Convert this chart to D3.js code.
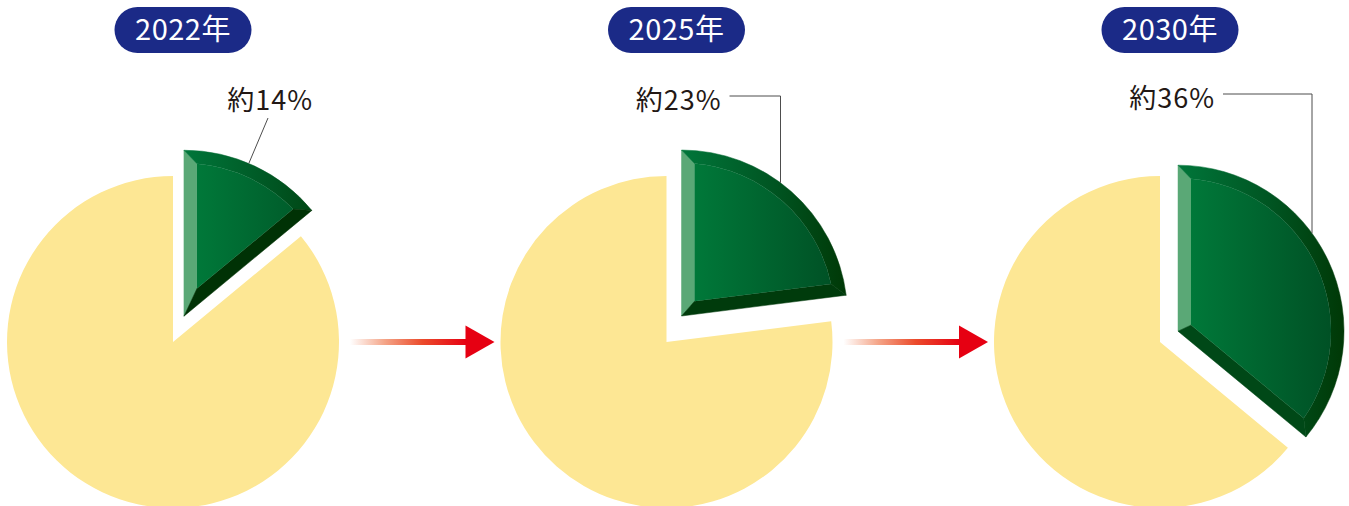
<!DOCTYPE html>
<html lang="ja">
<head>
<meta charset="utf-8">
<script src="https://cdn.jsdelivr.net/npm/d3@7"></script>
<style>
  html, body { margin: 0; padding: 0; background: #ffffff; }
  svg { display: block; }
  .pill-text { font-family: "Noto Sans CJK JP", "Noto Sans", sans-serif; font-weight: 400; }
  .share-label { font-family: "Noto Sans CJK JP", "Noto Sans", sans-serif; font-weight: 400; }
</style>
</head>
<body>
<div id="chart"></div>
<script>
// data
const years = ["2022年", "2025年", "2030年"];
const shares = [14, 23, 36];          // green share, percent
const shareLabels = ["約14%", "約23%", "約36%"];

// layout
const W = 1349, H = 506;
const R = 166, b = 13;               // pie radius, bevel width
const cy = 342;
// how far / which way (deg from 12 o'clock) the green slice is pulled out
const explode = [{d: 28, a: 23}, {d: 30, a: 30}, {d: 21, a: 59}];
// label right edge (relative to pie centre), baseline, leader type
const labelCfg = [
    {dx: 140, y: 110, leader: "slant", from: [95, 118], at: 23},
    {dx: 55, y: 110, leader: "elbow", elbow: 114, lineY: 96},
    {dx: 55, y: 108, leader: "elbow", elbow: 152, lineY: 94}
];

const svg = d3.select("#chart").append("svg")
    .attr("width", W)
    .attr("height", H);

const defs = svg.append("defs");

const x = d3.scalePoint()
    .domain(years)
    .range([173, 1160]);

const pie = d3.pie().sort(null).value(d => d);
const yellowArc = d3.arc().innerRadius(0).outerRadius(R);

// unit vector for angle measured clockwise from 12 o'clock
const u = a => [Math.sin(a), -Math.cos(a)];
const rad = deg => deg * Math.PI / 180;

// arrow gradient
const ag = defs.append("linearGradient")
    .attr("id", "arrowGrad")
    .attr("x1", 0).attr("x2", 1).attr("y1", 0).attr("y2", 0);
[[0, "#ffffff"], [0.3, "#f4a487"], [0.62, "#eb4b2c"], [1, "#e60012"]].forEach(s => {
    ag.append("stop").attr("offset", s[0]).attr("stop-color", s[1]);
});

years.forEach((yr, i) => {
    const cx = x(yr);
    const slices = pie([shares[i], 100 - shares[i]]);
    const g = svg.append("g").attr("class", "pie-" + i);

    // yellow remainder
    g.append("path")
        .attr("transform", `translate(${cx},${cy})`)
        .attr("d", yellowArc(slices[1]))
        .attr("fill", "#fde794");

    // exploded green slice with bevel
    const a0 = slices[0].startAngle, a1 = slices[0].endAngle;
    const mid = (a0 + a1) / 2;
    const ex = explode[i];
    const V = [cx + ex.d * u(rad(ex.a))[0], cy + ex.d * u(rad(ex.a))[1]];
    const P0 = [V[0] + R * u(a0)[0], V[1] + R * u(a0)[1]];
    const P1 = [V[0] + R * u(a1)[0], V[1] + R * u(a1)[1]];
    const dIn = b / Math.sin((a1 - a0) / 2);
    const Vi = [V[0] + dIn * u(mid)[0], V[1] + dIn * u(mid)[1]];
    const ri = R - b;
    const hit = a => {
        const w = [Vi[0] - V[0], Vi[1] - V[1]];
        const wu = w[0] * u(a)[0] + w[1] * u(a)[1];
        const t = -wu + Math.sqrt(wu * wu - (w[0] * w[0] + w[1] * w[1]) + ri * ri);
        return [Vi[0] + t * u(a)[0], Vi[1] + t * u(a)[1]];
    };
    const Q0 = hit(a0), Q1 = hit(a1);
    const ang = p => Math.atan2(p[0] - V[0], -(p[1] - V[1]));
    const q0 = ang(Q0), q1 = ang(Q1);
    const std = a => a - Math.PI / 2;   // to canvas angle

    // gradients for this slice
    const fg = defs.append("linearGradient")
        .attr("id", "face" + i)
        .attr("gradientUnits", "userSpaceOnUse")
        .attr("x1", V[0]).attr("x2", V[0] + R).attr("y1", 0).attr("y2", 0);
    fg.append("stop").attr("offset", 0).attr("stop-color", "#007c3b");
    fg.append("stop").attr("offset", 1).attr("stop-color", "#004d23");

    const rg = defs.append("linearGradient")
        .attr("id", "rim" + i)
        .attr("gradientUnits", "userSpaceOnUse")
        .attr("x1", V[0]).attr("x2", V[0] + R).attr("y1", 0).attr("y2", 0);
    rg.append("stop").attr("offset", 0).attr("stop-color", "#00763a");
    rg.append("stop").attr("offset", 0.55).attr("stop-color", "#005522");
    rg.append("stop").attr("offset", 1).attr("stop-color", "#003806");

    // end edge shade depends on which way it faces
    const nx = Math.cos(a1);
    const endShade = d3.interpolateRgb("#002c00", "#004e1c")((1 - nx) / 2);

    const gs = g.append("g").attr("class", "green-slice");

    // light left bevel
    const pL = d3.path();
    pL.moveTo(V[0], V[1]); pL.lineTo(P0[0], P0[1]); pL.lineTo(Q0[0], Q0[1]); pL.lineTo(Vi[0], Vi[1]); pL.closePath();
    gs.append("path").attr("d", pL.toString())
        .attr("fill", "#5aa876").attr("stroke", "#5aa876").attr("stroke-width", 0.5);

    // outer rim
    const pR = d3.path();
    pR.moveTo(P0[0], P0[1]);
    pR.arc(V[0], V[1], R, std(a0), std(a1), false);
    pR.lineTo(Q1[0], Q1[1]);
    pR.arc(V[0], V[1], ri, std(q1), std(q0), true);
    pR.closePath();
    gs.append("path").attr("d", pR.toString())
        .attr("fill", `url(#rim${i})`).attr("stroke", `url(#rim${i})`).attr("stroke-width", 0.5);

    // dark end bevel
    const pE = d3.path();
    pE.moveTo(P1[0], P1[1]); pE.lineTo(V[0], V[1]); pE.lineTo(Vi[0], Vi[1]); pE.lineTo(Q1[0], Q1[1]); pE.closePath();
    gs.append("path").attr("d", pE.toString())
        .attr("fill", endShade).attr("stroke", endShade).attr("stroke-width", 0.5);

    // face
    const pF = d3.path();
    pF.moveTo(Vi[0], Vi[1]);
    pF.lineTo(Q0[0], Q0[1]);
    pF.arc(V[0], V[1], ri, std(q0), std(q1), false);
    pF.closePath();
    gs.append("path").attr("d", pF.toString())
        .attr("fill", `url(#face${i})`);

    // title pill
    const pill = g.append("g").attr("transform", `translate(${cx + 10},30)`);
    pill.append("rect")
        .attr("x", -68.5).attr("y", -23)
        .attr("width", 137).attr("height", 46)
        .attr("rx", 23)
        .attr("fill", "#1b2a87");
    pill.append("text")
        .attr("class", "pill-text")
        .attr("text-anchor", "middle")
        .attr("dy", "0.36em")
        .attr("font-size", 29)
        .attr("letter-spacing", 0.5)
        .attr("fill", "#ffffff")
        .text(yr);

    // share label + leader
    const lc = labelCfg[i];
    g.append("text")
        .attr("class", "share-label")
        .attr("x", cx + lc.dx)
        .attr("y", lc.y)
        .attr("text-anchor", "end")
        .attr("font-size", 27)
        .attr("letter-spacing", 1)
        .attr("fill", "#231815")
        .text(shareLabels[i]);

    let pts;
    if (lc.leader === "slant") {
        const e = [V[0] + R * u(rad(lc.at))[0], V[1] + R * u(rad(lc.at))[1]];
        pts = [[cx + lc.from[0], lc.from[1]], e];
    } else {
        const lx = cx + lc.elbow;
        const ly = V[1] - Math.sqrt(R * R - (lx - V[0]) * (lx - V[0]));
        pts = [[cx + lc.dx + 8, lc.lineY], [lx, lc.lineY], [lx, ly]];
    }
    g.append("path")
        .attr("d", d3.line()(pts))
        .attr("fill", "none")
        .attr("stroke", "#4d4d4d")
        .attr("stroke-width", 1);
});

// arrows between pies
d3.range(years.length - 1).forEach(i => {
    const x0 = x(years[i]) + R + 11;
    const tip = x(years[i + 1]) - R - 6;
    const head = 29, hh = 16.5, sh = 3;
    const ga = svg.append("g").attr("class", "arrow");
    ga.append("rect")
        .attr("x", x0).attr("y", cy - sh)
        .attr("width", tip - head - x0 + 1).attr("height", sh * 2)
        .attr("fill", "url(#arrowGrad)");
    ga.append("path")
        .attr("d", d3.line()([[tip - head, cy - hh], [tip, cy], [tip - head, cy + hh]]) + "Z")
        .attr("fill", "#e60012");
});
</script>
</body>
</html>
